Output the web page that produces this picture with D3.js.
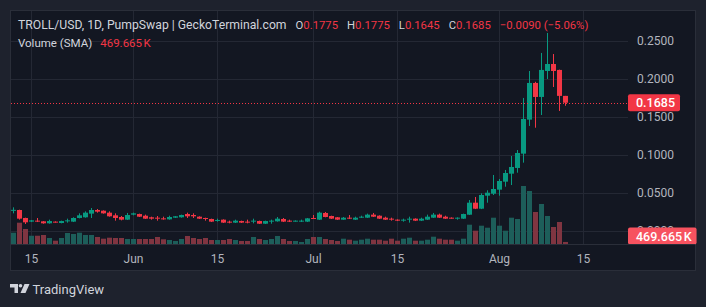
<!DOCTYPE html>
<html>
<head>
<meta charset="utf-8">
<script src="https://cdn.jsdelivr.net/npm/d3@7"></script>
<style>
html, body { margin: 0; padding: 0; background: #1e222d; }
svg { display: block; }
text { font-family: Roboto, "Noto Sans", sans-serif; }
</style>
</head>
<body>
<svg width="706" height="307"></svg>
<script>
// daily candles, 12 May .. 12 Aug
const dates = d3.utcDay.range(new Date(Date.UTC(2025, 4, 12)), new Date(Date.UTC(2025, 7, 13)));

const open = [
  .0265,.0276,.0171,.0123,.0136,.0127,.0101,.0123,.0105,.0127,
  .0123,.0171,.0180,.0228,.0276,.0267,.0241,.0206,.0184,.0149,
  .0215,.0223,.0201,.0180,.0175,.0166,.0153,.0175,.0180,.0223,
  .0210,.0188,.0171,.0158,.0140,.0149,.0123,.0110,.0131,.0123,
  .0123,.0131,.0096,.0123,.0127,.0158,.0136,.0127,.0123,.0123,
  .0171,.0149,.0237,.0197,.0180,.0149,.0175,.0149,.0175,.0175,
  .0215,.0201,.0175,.0162,.0149,.0136,.0149,.0162,.0136,.0149,
  .0175,.0215,.0188,.0175,.0166,.0162,.0214,.0372,.0293,.0464,
  .0490,.0543,.0648,.0753,.0828,.1016,.1463,.1945,.1761,.2102,
  .2194,.2116,.1775
];
const high = [
  .0311,.0280,.0175,.0145,.0171,.0131,.0149,.0127,.0136,.0162,
  .0180,.0232,.0258,.0302,.0289,.0271,.0258,.0232,.0197,.0237,
  .0241,.0228,.0215,.0188,.0197,.0188,.0201,.0197,.0215,.0241,
  .0232,.0193,.0175,.0162,.0162,.0153,.0136,.0149,.0136,.0149,
  .0162,.0136,.0136,.0149,.0184,.0171,.0149,.0140,.0149,.0171,
  .0210,.0254,.0250,.0201,.0184,.0184,.0210,.0188,.0201,.0228,
  .0237,.0206,.0188,.0175,.0153,.0162,.0188,.0166,.0175,.0215,
  .0237,.0228,.0201,.0179,.0179,.0228,.0407,.0447,.0495,.0535,
  .0736,.0683,.0802,.0986,.1064,.1748,.2102,.1960,.2339,.2602,
  .2325,.2120,.1775
];
const low = [
  .0232,.0150,.0092,.0118,.0118,.0096,.0096,.0110,.0101,.0110,
  .0118,.0166,.0175,.0171,.0241,.0228,.0188,.0136,.0140,.0145,
  .0206,.0184,.0158,.0149,.0136,.0149,.0149,.0171,.0175,.0171,
  .0171,.0158,.0136,.0118,.0123,.0105,.0101,.0105,.0105,.0101,
  .0101,.0092,.0092,.0096,.0123,.0118,.0118,.0123,.0118,.0118,
  .0158,.0145,.0180,.0158,.0145,.0149,.0158,.0145,.0171,.0171,
  .0184,.0158,.0145,.0136,.0131,.0123,.0110,.0131,.0131,.0145,
  .0171,.0171,.0158,.0162,.0149,.0158,.0210,.0288,.0288,.0372,
  .0473,.0464,.0582,.0604,.0766,.0898,.1380,.1357,.1524,.1997,
  .1892,.1577,.1645
];
const close = [
  .0278,.0162,.0114,.0140,.0123,.0101,.0131,.0114,.0131,.0140,
  .0171,.0206,.0241,.0276,.0254,.0232,.0193,.0171,.0149,.0210,
  .0232,.0188,.0162,.0162,.0162,.0153,.0184,.0193,.0210,.0193,
  .0193,.0162,.0158,.0123,.0145,.0110,.0110,.0136,.0110,.0110,
  .0136,.0096,.0131,.0136,.0162,.0123,.0123,.0136,.0136,.0166,
  .0162,.0241,.0184,.0162,.0149,.0175,.0162,.0175,.0188,.0215,
  .0188,.0162,.0149,.0149,.0136,.0149,.0162,.0136,.0162,.0188,
  .0215,.0175,.0162,.0166,.0175,.0223,.0372,.0293,.0473,.0503,
  .0552,.0657,.0762,.0841,.1025,.1472,.1945,.1761,.2116,.2194,
  .2102,.1775,.1685
];
// volume in thousands
const volume = [
  2600,4900,3450,1900,1900,2070,1380,760,1380,2530,
  2300,2600,2070,2070,1610,1220,1450,1380,1380,1150,
  1150,1150,1150,1150,1610,1080,920,690,1150,1840,
  1380,1150,1380,920,920,920,1150,920,690,690,
  1610,1150,920,1150,1840,1150,690,690,460,1150,
  1610,1610,1150,920,690,1220,990,760,990,1220,
  990,990,760,1220,760,1220,1450,760,760,990,
  1680,1220,990,990,760,1220,4440,3060,4210,3750,
  6050,4210,3060,6050,5750,13340,12190,7360,9200,6440,
  3910,5060,469.665
];

const priceTicks = [0, 0.05, 0.1, 0.15, 0.2, 0.25];
const timeTicks = ["2025-05-15", "2025-06-01", "2025-06-15", "2025-07-01", "2025-07-15", "2025-08-01", "2025-08-15"];
const timeLabels = ["15", "Jun", "15", "Jul", "15", "Aug", "15"];

const up = "#089981", down = "#f23645";
const volUp = "#1d5e5a", volDown = "#803541";
const grid = "#242834", axisText = "#b2b5be";

const svg = d3.select("svg");

const x = d3.scaleUtc()
  .domain([new Date(Date.UTC(2025, 4, 15)), new Date(Date.UTC(2025, 7, 15))])
  .range([31, 583]);
const y = d3.scaleLinear().domain([0, 0.25]).range([231, 40.7]);
const v = d3.scaleLinear().domain([0, d3.max(volume)]).range([244, 186]);

const candles = dates.map((d, i) => ({
  date: d, o: open[i], h: high[i], l: low[i], c: close[i], vol: volume[i]
}));

// panel
svg.append("rect")
  .attr("x", 10.5).attr("y", 10.5)
  .attr("width", 685).attr("height", 260)
  .attr("fill", "#131722")
  .attr("stroke", "#2a2e39");

// grid
svg.append("g").selectAll("line")
  .data(priceTicks)
  .join("line")
  .attr("x1", 11).attr("x2", 628)
  .attr("y1", d => Math.round(y(d)) + 0.5)
  .attr("y2", d => Math.round(y(d)) + 0.5)
  .attr("stroke", grid);
svg.append("g").selectAll("line")
  .data(timeTicks)
  .join("line")
  .attr("x1", d => Math.round(x(new Date(d))) + 0.5)
  .attr("x2", d => Math.round(x(new Date(d))) + 0.5)
  .attr("y1", 11).attr("y2", 244)
  .attr("stroke", grid);

// volume
svg.append("g").selectAll("rect")
  .data(candles)
  .join("rect")
  .attr("x", d => Math.round(x(d.date)) - 2)
  .attr("width", 5)
  .attr("y", d => v(d.vol))
  .attr("height", d => 244 - v(d.vol))
  .attr("fill", d => d.c >= d.o ? volUp : volDown);

// candles
const cg = svg.append("g").selectAll("g")
  .data(candles)
  .join("g")
  .attr("fill", d => d.c >= d.o ? up : down);
cg.append("rect")
  .attr("x", d => Math.round(x(d.date)))
  .attr("width", 1)
  .attr("y", d => y(d.h))
  .attr("height", d => y(d.l) - y(d.h));
cg.append("rect")
  .attr("x", d => Math.round(x(d.date)) - 2)
  .attr("width", 5)
  .attr("y", d => y(Math.max(d.o, d.c)))
  .attr("height", d => Math.max(1, Math.abs(y(d.o) - y(d.c))));

// last price line
const last = candles[candles.length - 1];
svg.append("line")
  .attr("x1", 11).attr("x2", 628)
  .attr("y1", Math.round(y(last.c)) + 0.5)
  .attr("y2", Math.round(y(last.c)) + 0.5)
  .attr("stroke", down)
  .attr("stroke-dasharray", "1,2");

// price axis
const yAxis = svg.append("g")
  .attr("transform", "translate(628,0)")
  .call(d3.axisRight(y).tickValues(priceTicks).tickFormat(d3.format(".4f")).tickSize(0).tickPadding(9));
yAxis.select(".domain").remove();
yAxis.selectAll("text")
  .attr("fill", axisText)
  .attr("font-size", 12)
  .style("font-family", "Roboto, sans-serif");

function priceTag(value, label, bg) {
  const g = svg.append("g");
  const r = g.append("rect").attr("fill", bg).attr("rx", 2);
  const t = g.append("text")
    .attr("x", 636)
    .attr("y", value)
    .attr("dy", "0.36em")
    .attr("fill", "#ffffff")
    .attr("font-size", 12.5)
    .attr("font-weight", 500)
    .text(label);
  const w = t.node().getComputedTextLength();
  r.attr("x", 628).attr("y", value - 8.5).attr("width", w + 13).attr("height", 17);
}
priceTag(y(last.c), d3.format(".4f")(last.c), down);
priceTag(236, "469.665\u202fK", "#f7525f");

// time axis
svg.append("line")
  .attr("x1", 11).attr("x2", 695)
  .attr("y1", 244.5).attr("y2", 244.5)
  .attr("stroke", "#2a2e39");
const xAxis = svg.append("g")
  .attr("transform", "translate(0,244)")
  .call(d3.axisBottom(x)
    .tickValues(timeTicks.map(d => new Date(d)))
    .tickFormat((d, i) => timeLabels[i])
    .tickSize(0).tickPadding(10));
xAxis.select(".domain").remove();
xAxis.selectAll("text")
  .attr("fill", axisText)
  .attr("font-size", 12)
  .style("font-family", "Roboto, sans-serif");

// legend
const head = svg.append("text")
  .attr("x", 18).attr("y", 28.5)
  .attr("font-size", 11.3)
  .attr("fill", "#d1d4dc");
head.append("tspan").attr("font-size", 12.2).text("TROLL/USD, 1D, PumpSwap | GeckoTerminal.com");
[["O", last.o], ["H", last.h], ["L", last.l], ["C", last.c]].forEach(p => {
  head.append("tspan").attr("dx", 9).text(p[0]);
  head.append("tspan").attr("fill", down).text(d3.format(".4f")(p[1]));
});
head.append("tspan").attr("dx", 9).attr("fill", down).text("\u22120.0090 (\u22125.06%)");

const vol = svg.append("text")
  .attr("x", 18).attr("y", 47)
  .attr("font-size", 11.5)
  .attr("fill", "#d1d4dc");
vol.append("tspan").text("Volume (SMA)");
vol.append("tspan").attr("dx", 8).attr("fill", down).text("469.665\u202fK");

// TradingView mark
const logo = svg.append("g").attr("fill", "#d1d4dc");
logo.append("path").attr("d", "M10,284h8v9h-3.5v-5.5h-4.5z");
logo.append("circle").attr("cx", 20.5).attr("cy", 285.8).attr("r", 1.8);
logo.append("path").attr("d", "M24.5,284h5l-4,9h-5z");
svg.append("text")
  .attr("x", 32.5).attr("y", 293.5)
  .attr("font-size", 13)
  .attr("fill", "#d1d4dc")
  .text("TradingView");
</script>
</body>
</html>
